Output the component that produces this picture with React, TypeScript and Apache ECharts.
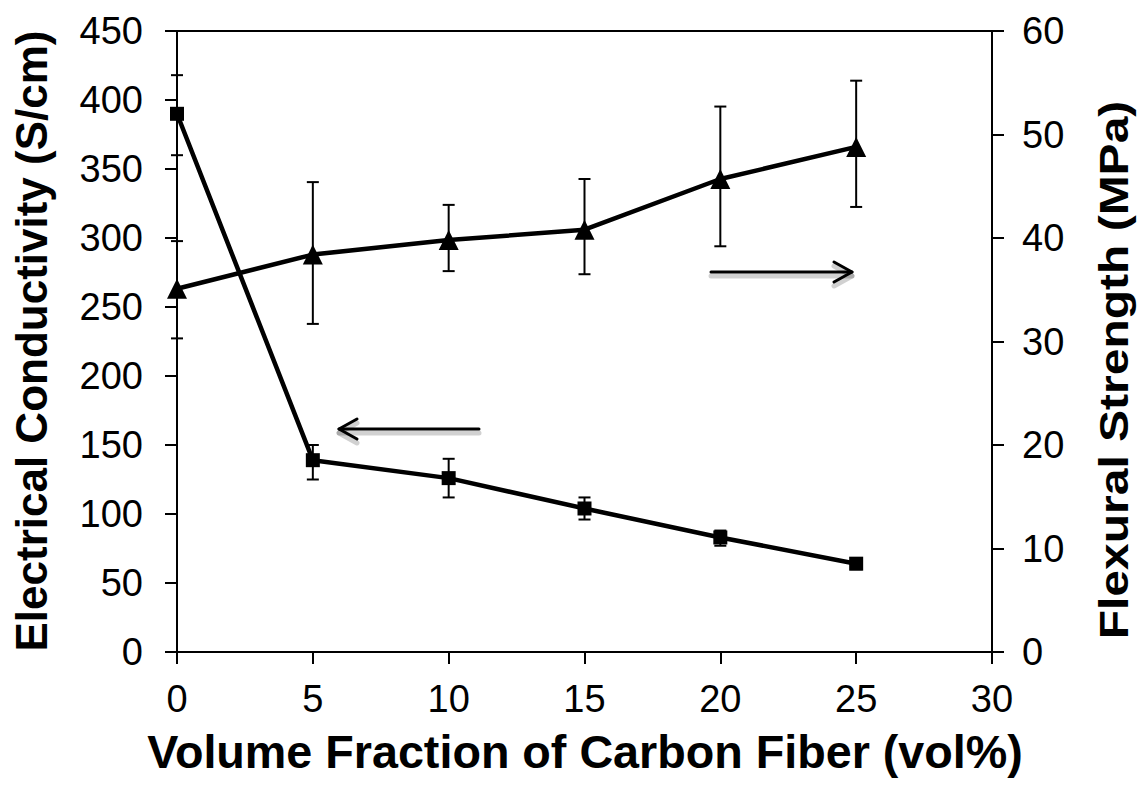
import React, { useEffect, useRef } from "react";
import * as echarts from "echarts";

const xValues = [0, 5, 10, 15, 20, 25];
const conductivity = [390, 139, 126, 104, 83, 64];
const conductivityLow = [360, 125, 112, 96, 77, 60];
const conductivityHigh = [418, 150, 140, 112, 88, 67];
const strength = [35.1, 38.4, 39.8, 40.8, 45.7, 48.8];
const strengthLow = [30.3, 31.7, 36.8, 36.5, 39.2, 43.0];
const strengthHigh = [39.7, 45.4, 43.2, 45.7, 52.7, 55.2];

const xTitle = "Volume Fraction of Carbon Fiber (vol%)";
const leftTitle = "Electrical Conductivity (S/cm)";
const rightTitle = "Flexural Strength (MPa)";

const FONT = '"Liberation Sans", Arial, sans-serif';

function errorRender(params: any, api: any) {
  const x = api.value(0);
  const lo = api.coord([x, api.value(1)]);
  const hi = api.coord([x, api.value(2)]);
  const half = 6;
  const st = { stroke: "#000", lineWidth: 2 };
  return {
    type: "group",
    children: [
      { type: "line", shape: { x1: hi[0], y1: hi[1], x2: lo[0], y2: lo[1] }, style: st },
      { type: "line", shape: { x1: hi[0] - half, y1: hi[1], x2: hi[0] + half, y2: hi[1] }, style: st },
      { type: "line", shape: { x1: lo[0] - half, y1: lo[1], x2: lo[0] + half, y2: lo[1] }, style: st },
    ],
  };
}

function arrow(x1: number, x2: number, y: number) {
  const dir = x2 > x1 ? 1 : -1;
  const head = [[x2 - dir * 18, y - 10], [x2, y], [x2 - dir * 18, y + 10]];
  const shadowHead = head.map((p) => [p[0], p[1] + 4]);
  const shadow = { stroke: "rgba(0,0,0,0.18)", lineWidth: 5, fill: null, lineCap: "round", lineJoin: "round" };
  const main = { stroke: "#000", lineWidth: 3, fill: null, lineCap: "round", lineJoin: "round" };
  return [
    { type: "line", shape: { x1, y1: y + 4, x2, y2: y + 4 }, style: shadow },
    { type: "polyline", shape: { points: shadowHead }, style: shadow },
    { type: "line", shape: { x1, y1: y, x2, y2: y }, style: main },
    { type: "polyline", shape: { points: head }, style: main },
  ];
}

export default function App() {
  const ref = useRef<HTMLDivElement>(null);
  useEffect(() => {
    if (!ref.current) return;
    const chart = echarts.init(ref.current, null, { renderer: "svg" });
    chart.setOption({
      animation: false,
      backgroundColor: "#fff",
      grid: {
        left: 177,
        top: 31,
        right: 147,
        bottom: 139,
        show: true,
        borderColor: "#000",
        borderWidth: 2,
      },
      xAxis: {
        type: "value",
        min: 0,
        max: 30,
        interval: 5,
        splitLine: { show: false },
        axisLine: { show: true, lineStyle: { color: "#000", width: 2 } },
        axisTick: { show: true, length: 12, lineStyle: { color: "#000", width: 2 } },
        axisLabel: { margin: 28, fontSize: 38, color: "#000", fontFamily: FONT },
      },
      yAxis: [
        {
          type: "value",
          min: 0,
          max: 450,
          interval: 50,
          position: "left",
          splitLine: { show: false },
          axisLine: { show: true, lineStyle: { color: "#000", width: 2 } },
          axisTick: { show: true, length: 12, lineStyle: { color: "#000", width: 2 } },
          axisLabel: { margin: 34, fontSize: 38, color: "#000", fontFamily: FONT },
        },
        {
          type: "value",
          min: 0,
          max: 60,
          interval: 10,
          position: "right",
          splitLine: { show: false },
          axisLine: { show: true, lineStyle: { color: "#000", width: 2 } },
          axisTick: { show: true, length: 12, lineStyle: { color: "#000", width: 2 } },
          axisLabel: { margin: 30, fontSize: 38, color: "#000", fontFamily: FONT },
        },
      ],
      series: [
        {
          type: "custom",
          yAxisIndex: 0,
          renderItem: errorRender,
          data: xValues.map((x, i) => [x, conductivityLow[i], conductivityHigh[i]]),
          z: 1,
        },
        {
          type: "custom",
          yAxisIndex: 1,
          renderItem: errorRender,
          data: xValues.map((x, i) => [x, strengthLow[i], strengthHigh[i]]),
          z: 1,
        },
        {
          name: "Electrical Conductivity",
          type: "line",
          yAxisIndex: 0,
          data: xValues.map((x, i) => [x, conductivity[i]]),
          symbol: "rect",
          symbolSize: 14,
          lineStyle: { color: "#000", width: 4.5 },
          itemStyle: { color: "#000" },
          z: 3,
        },
        {
          name: "Flexural Strength",
          type: "line",
          yAxisIndex: 1,
          data: xValues.map((x, i) => [x, strength[i]]),
          symbol: "triangle",
          symbolSize: 20,
          lineStyle: { color: "#000", width: 4.5 },
          itemStyle: { color: "#000" },
          z: 3,
        },
      ],
      graphic: [
        {
          type: "text",
          x: 31,
          y: 341,
          rotation: Math.PI / 2,
          style: { text: leftTitle, font: `bold 44px ${FONT}`, fill: "#000", align: "center", verticalAlign: "middle" },
        },
        {
          type: "text",
          x: 1114,
          y: 370,
          rotation: Math.PI / 2,
          scaleX: 1.2,
          style: { text: rightTitle, font: `bold 40px ${FONT}`, fill: "#000", align: "center", verticalAlign: "middle" },
        },
        {
          type: "text",
          x: 585,
          y: 752,
          scaleX: 1.015,
          style: { text: xTitle, font: `bold 46px ${FONT}`, fill: "#000", align: "center", verticalAlign: "middle" },
        },
        ...arrow(479, 339, 429),
        ...arrow(711, 852, 272),
      ],
    });
    return () => chart.dispose();
  }, []);
  return <div ref={ref} style={{ position: "fixed", left: 0, top: 0, width: 1139, height: 791 }} />;
}
